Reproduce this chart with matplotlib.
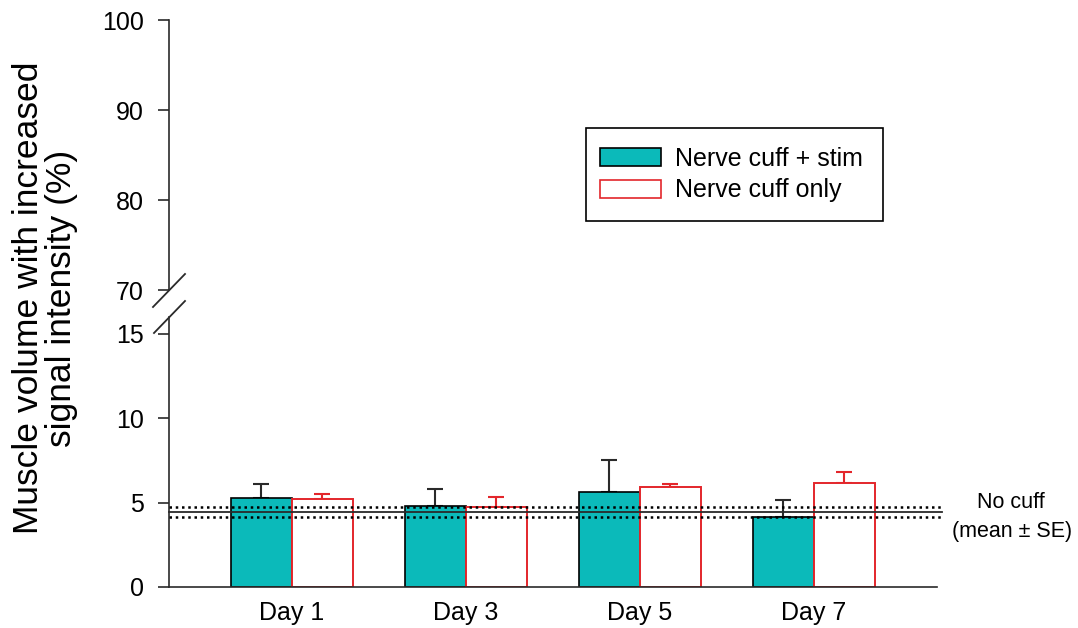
import matplotlib
matplotlib.use("Agg")
import matplotlib.pyplot as plt
from matplotlib.patches import Patch, Rectangle
from matplotlib.lines import Line2D
import numpy as np

plt.rcParams['font.family'] = ['Liberation Sans', 'DejaVu Sans']

days = ["Day 1", "Day 3", "Day 5", "Day 7"]
stim_mean = [5.28, 4.81, 5.64, 4.12]
stim_err = [0.81, 0.97, 1.87, 1.01]
only_mean = [5.19, 4.75, 5.93, 6.17]
only_err = [0.30, 0.56, 0.18, 0.62]
nocuff_mean = 4.46
nocuff_se = 0.30
upper_ticks = [70, 80, 90, 100]
lower_ticks = [0, 5, 10, 15]

W, H = 1078, 628
fig = plt.figure(figsize=(W / 100, H / 100), dpi=100)

def px_rect(x0, y_top, x1, y_bot):
    return [x0 / W, 1 - y_bot / H, (x1 - x0) / W, (y_bot - y_top) / H]

ax_lo = fig.add_axes(px_rect(169, 317, 937, 587))
ax_hi = fig.add_axes(px_rect(169, 20, 937, 290))

teal = '#0BBABA'
red = '#E3262B'
dark = '#2a2a2a'

x = np.arange(len(days))
bw = 0.35
xlim = (-0.705, 3.709)

for ax in (ax_lo, ax_hi):
    ax.set_xlim(*xlim)
    for s in ['top', 'right']:
        ax.spines[s].set_visible(False)
    ax.spines['left'].set_linewidth(1.2)
    ax.spines['left'].set_color(dark)
    ax.tick_params(axis='y', direction='out', length=8, width=1.2, color=dark,
                   labelsize=18, pad=10)
    ax.patch.set_alpha(0)

ax_hi.spines['bottom'].set_visible(False)
ax_hi.set_xticks([])
ax_hi.set_ylim(70, 100)
ax_hi.set_yticks(upper_ticks)

ax_lo.spines['bottom'].set_linewidth(1.2)
ax_lo.spines['bottom'].set_color(dark)
ax_lo.set_ylim(0, 16)
ax_lo.set_yticks(lower_ticks)
ax_lo.set_xticks(x)
ax_lo.set_xticklabels(days)
ax_lo.tick_params(axis='x', length=0, labelsize=18, pad=10)

ax_lo.bar(x - bw / 2, stim_mean, bw, color=teal, edgecolor='black', linewidth=1.2, zorder=2)
ax_lo.bar(x + bw / 2, only_mean, bw, color='white', edgecolor=red, linewidth=1.4, zorder=2)
ax_lo.errorbar(x - bw / 2, stim_mean, yerr=[np.zeros(4), stim_err], fmt='none',
               ecolor=dark, elinewidth=1.5, capsize=6, capthick=1.5, zorder=1)
ax_lo.errorbar(x + bw / 2, only_mean, yerr=[np.zeros(4), only_err], fmt='none',
               ecolor=red, elinewidth=1.5, capsize=5.5, capthick=1.5, zorder=1)

xl_end = 3.737
ax_lo.plot([xlim[0], xl_end], [nocuff_mean] * 2, color=dark, lw=1.3, zorder=3, clip_on=False)
for v in (nocuff_mean + nocuff_se, nocuff_mean - nocuff_se):
    ax_lo.plot([xlim[0], xl_end], [v, v], color='black', lw=1.8,
               linestyle=(0, (1, 1.5)), zorder=3, clip_on=False)

fig.text(1011 / W, 1 - 503 / H, "No cuff", ha='center', va='center', fontsize=15.5)
fig.text(1012 / W, 1 - 531 / H, "(mean \u00b1 SE)", ha='center', va='center', fontsize=15.5)

# axis break marks
for (xa, ya, xb, yb) in [(153, 307, 185, 274), (154, 333, 185, 301)]:
    fig.add_artist(Line2D([xa / W, xb / W], [1 - ya / H, 1 - yb / H],
                          transform=fig.transFigure, color=dark, lw=1.3))

fig.text(45 / W, 1 - 298 / H, "Muscle volume with increased\nsignal intensity (%)",
         rotation=90, ha='center', va='center', fontsize=25.5, multialignment='center',
         linespacing=1.0)

# legend frame
fig.add_artist(Rectangle((586 / W, 1 - 221 / H), (883 - 586) / W, (221 - 128) / H,
                         transform=fig.transFigure, facecolor='white',
                         edgecolor='black', linewidth=1.2, zorder=4))
handles = [Patch(facecolor=teal, edgecolor='black', linewidth=1.2),
           Patch(facecolor='white', edgecolor=red, linewidth=1.2)]
leg = fig.legend(handles, ["Nerve cuff + stim", "Nerve cuff only"],
                 loc='upper left', bbox_to_anchor=(600 / W, 1 - 147 / H),
                 bbox_transform=fig.transFigure, fontsize=18, frameon=False,
                 borderpad=0, labelspacing=0.3, handlelength=2.45, handleheight=0.72,
                 handletextpad=0.56, borderaxespad=0)
leg.set_zorder(5)

fig.savefig("out.png", dpi=100)
